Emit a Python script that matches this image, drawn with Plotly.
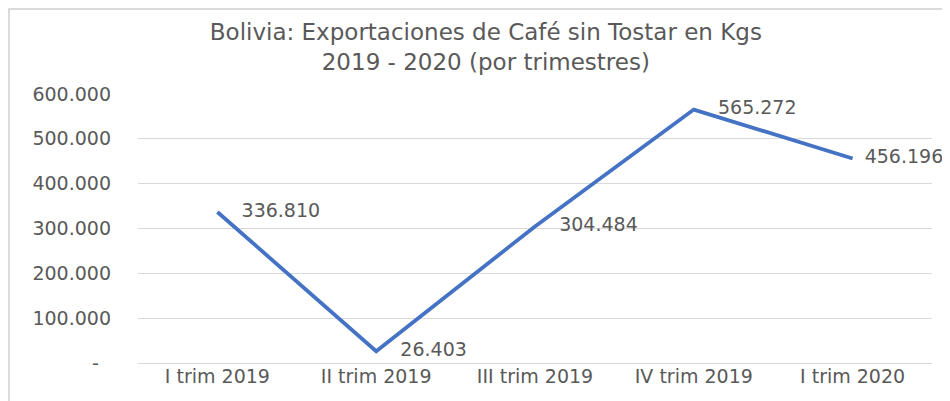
import plotly.graph_objects as go

categories = ["I trim 2019", "II trim 2019", "III trim 2019", "IV trim 2019", "I trim 2020"]
values = [336810, 26403, 304484, 565272, 456196]
y_tickvals = [0, 100000, 200000, 300000, 400000, 500000, 600000]
y_ticktext = ["-\u00a0\u00a0", "100.000", "200.000", "300.000", "400.000", "500.000", "600.000"]
title_text = "Bolivia: Exportaciones de Café sin Tostar en Kgs<br>2019 - 2020 (por trimestres)"

grey = "#595959"
font_main = "DejaVu Sans"

labels = ["\u00a0\u00a0\u00a0\u00a0" + f"{v:,}".replace(",", ".") for v in values]
labels[-1] = "\u00a0\u00a0" + f"{values[-1]:,}".replace(",", ".")

# page has an 8px body offset; margins below are in figure coordinates
fig = go.Figure()
fig.add_trace(go.Scatter(
    x=categories, y=values,
    mode="lines+text",
    line=dict(color="#4472C4", width=3.8),
    text=labels,
    textposition="middle right",
    textfont=dict(family=font_main, size=19, color=grey),
    cliponaxis=False,
    hoverinfo="skip",
))

fig.update_layout(
    width=950, height=401,
    margin=dict(l=130, r=26, t=86, b=46, autoexpand=False),
    paper_bgcolor="white", plot_bgcolor="white",
    showlegend=False,
    title=dict(text=title_text, x=0.503, xanchor="center", xref="container",
               y=0.92, yanchor="top", yref="container",
               font=dict(family=font_main, size=23, color=grey)),
    font=dict(family=font_main, color=grey),
)

fig.update_xaxes(
    type="category", showgrid=False, zeroline=False, showline=False,
    ticks="", tickfont=dict(family=font_main, size=19, color=grey),
    range=[-0.5, 4.5], automargin=False,
)
fig.update_yaxes(
    range=[0, 600000], tickvals=y_tickvals, ticktext=y_ticktext,
    showgrid=True, gridcolor="#d9d9d9", gridwidth=1,
    zeroline=True, zerolinecolor="#d9d9d9", zerolinewidth=1,
    showline=False, ticks="", ticklabelstandoff=26, automargin=False,
    tickfont=dict(family=font_main, size=19, color=grey),
)

# outer chart-area frame (visible at left/top edges)
fig.add_shape(type="rect", xref="paper", yref="paper",
              x0=(1 - 130) / 794, x1=1.2, y0=-0.5, y1=1 + (86 - 1) / 269,
              line=dict(color="#d0d0d0", width=1.5), fillcolor="rgba(0,0,0,0)", layer="below")

fig.write_html("out.html")
